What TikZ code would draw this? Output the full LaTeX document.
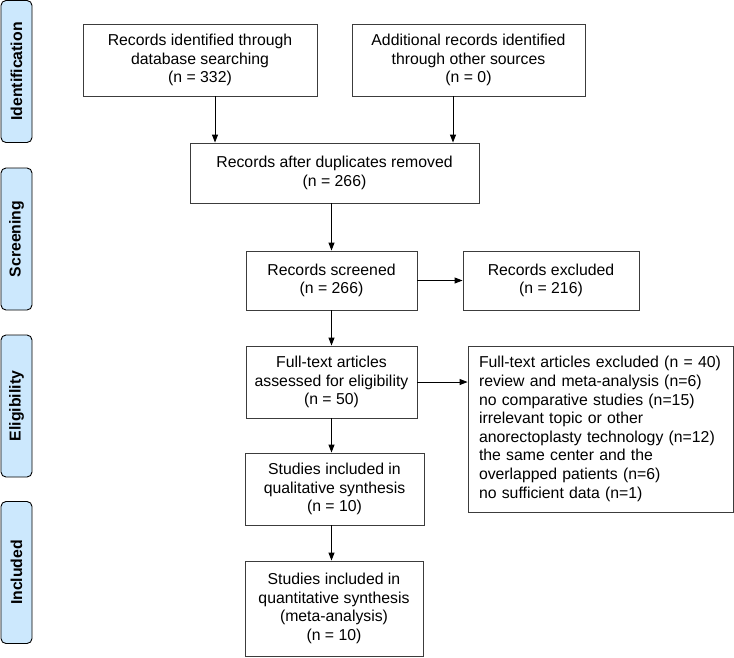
\documentclass[tikz,border=0pt]{standalone}
\usepackage{fontspec}
\setmainfont{Liberation Sans}
\usetikzlibrary{arrows.meta}
\definecolor{sidefill}{RGB}{204,232,253}
\definecolor{boxline}{RGB}{60,60,60}
\newcommand\fsz{\fontsize{15.8}{18.6}\selectfont}
\tikzset{
  box/.style={draw=boxline, line width=0.9pt, inner sep=0pt, align=center, font=\fsz},
  side/.style={draw=black, fill=sidefill, line width=0.9pt, rounded corners=5pt, inner sep=0pt,
    rotate=90, font=\fsz\bfseries, minimum width=142pt, minimum height=31pt},
  arr/.style={-{Triangle[length=8pt,width=6pt]}, line width=0.9pt, black}
}
\begin{document}
\begin{tikzpicture}[x=1pt,y=-1pt]
\useasboundingbox (0,0) rectangle (734,657);
% side labels
\node[side] (s1) at (16.5,71.5) {Identification};
\node[side] (s2) at (16.5,239) {Screening};
\node[side] (s3) at (16.5,406) {Eligibility};
\node[side] (s4) at (16.5,572.5) {Included};
% boxes
\node[box, minimum width=234pt, minimum height=72pt] (b1) at (200,60)
  {Records identified through\\database searching\\(n = 332)};
\node[box, minimum width=233pt, minimum height=72pt] (b2) at (468.5,60)
  {Additional records identified\\through other sources\\(n = 0)};
\node[box, minimum width=289pt, minimum height=60pt] (b3) at (334.5,173)
  {Records after duplicates removed\\(n = 266)};
\node[box, minimum width=171pt, minimum height=59pt] (b4) at (331.5,280.5)
  {Records screened\\(n = 266)};
\node[box, minimum width=176pt, minimum height=59pt] (b5) at (551,280.5)
  {Records excluded\\(n = 216)};
\node[box, minimum width=171pt, minimum height=72pt] (b6) at (331.5,382)
  {Full-text articles\\assessed for eligibility\\(n = 50)};
\node[box, minimum width=265pt, minimum height=166pt, align=left, text width=243pt] (b7) at (600.5,429)
  {Full-text articles excluded (n = 40)\\review and meta-analysis (n=6)\\no comparative studies (n=15)\\irrelevant topic or other\\anorectoplasty technology (n=12)\\the same center and the\\overlapped patients (n=6)\\no sufficient data (n=1)};
\node[box, minimum width=179pt, minimum height=72pt] (b8) at (334.5,489)
  {Studies included in\\qualitative synthesis\\(n = 10)};
\node[box, minimum width=178pt, minimum height=95pt] (b9) at (334,608.5)
  {Studies included in\\quantitative synthesis\\(meta-analysis)\\(n = 10)};
% connectors
\coordinate (a1) at (215,96);
\coordinate (a2) at (453,96);
\draw[arr] (a1) -- (a1 |- b3.north);
\draw[arr] (a2) -- (a2 |- b3.north);
\draw[arr] (b4.north |- b3.south) -- (b4.north);
\draw[arr] (b4.east) -- (b5.west);
\draw[arr] (b4.south) -- (b6.north);
\draw[arr] (b6.east) -- (b6.east -| b7.west);
\draw[arr] (b6.south) -- (b6.south |- b8.north);
\draw[arr] (b6.south |- b8.south) -- (b6.south |- b9.north);
\end{tikzpicture}
\end{document}
